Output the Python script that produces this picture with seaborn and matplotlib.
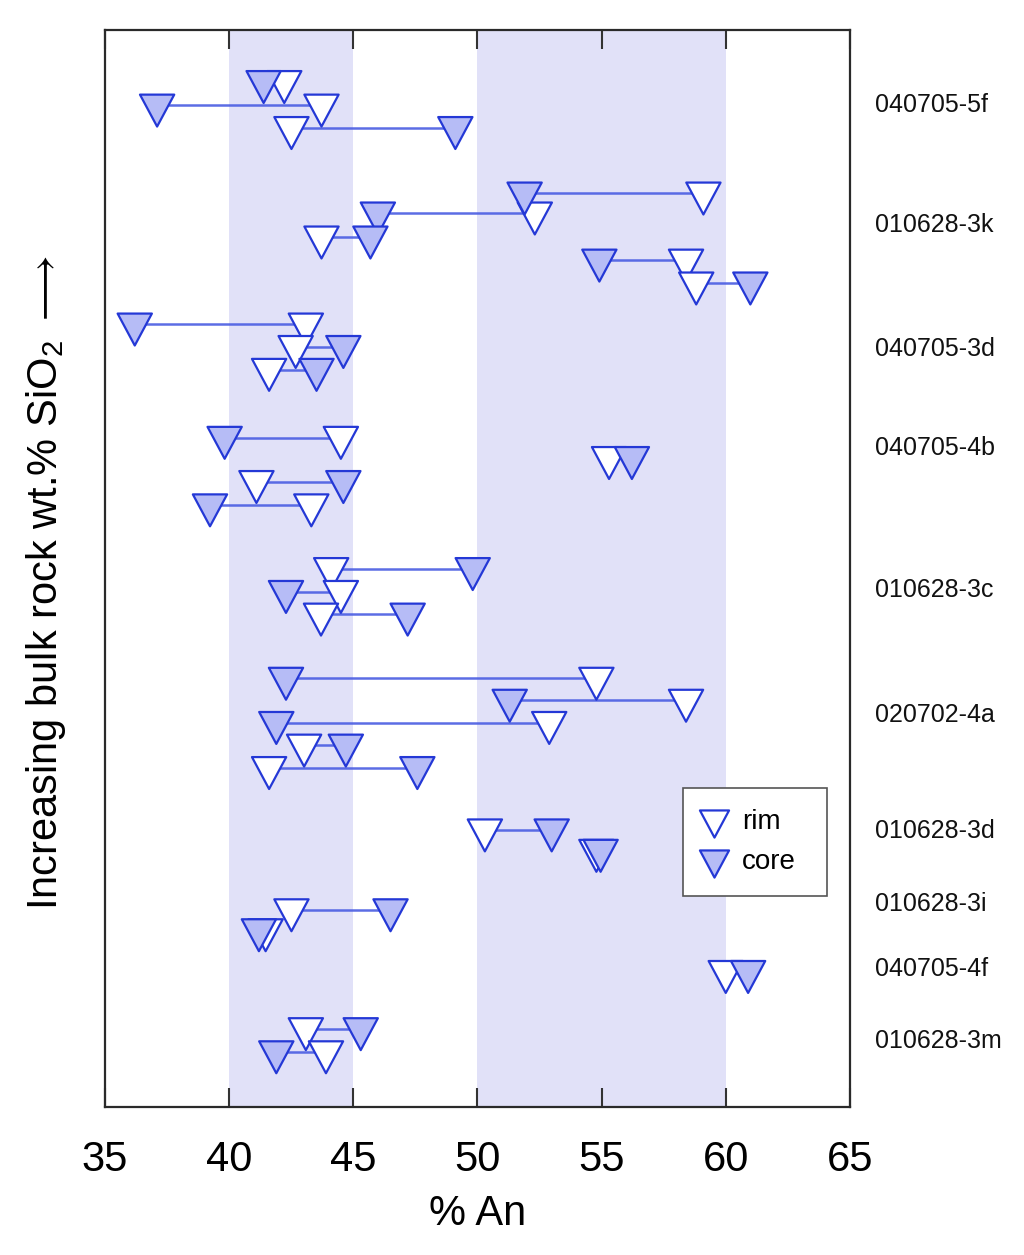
import numpy as np
import pandas as pd
import matplotlib
matplotlib.use("Agg")
import matplotlib.pyplot as plt
import matplotlib.path as mpath
from matplotlib.markers import MarkerStyle
import seaborn as sns

# ---------------- data ----------------
# one entry per rim-core pair: vertical row position, rim %An, core %An
row_pos = [45.70, 44.65, 43.65,
           40.73, 39.84, 38.77, 37.74, 36.72,
           34.89, 33.89, 32.87,
           29.84, 28.94, 27.87, 26.83,
           23.99, 22.97, 21.96,
           19.10, 18.12, 17.13, 16.12, 15.12,
           12.34, 11.43,
           8.78, 7.89,
           6.03,
           3.48, 2.45]
rim_an = [42.22, 43.72, 42.51,
          59.10, 52.31, 43.72, 58.40, 58.81,
          43.09, 42.68, 41.61,
          44.50, 55.30, 41.10, 43.31,
          44.11, 44.50, 43.70,
          54.79, 58.40, 52.89, 43.02, 41.61,
          50.30, 54.79,
          42.51, 41.47,
          60.00,
          43.09, 43.90]
core_an = [41.39, 37.10, 49.11,
           51.90, 45.99, 45.69, 54.91, 60.99,
           36.20, 44.60, 43.52,
           39.82, 56.22, 44.60, 39.23,
           49.81, 42.29, 47.19,
           42.29, 51.30, 41.90, 44.70, 47.58,
           52.99, 54.96,
           46.50, 41.20,
           60.90,
           45.30, 41.90]

sample_names = ["040705-5f", "010628-3k", "040705-3d", "040705-4b", "010628-3c",
                "020702-4a", "010628-3d", "010628-3i", "040705-4f", "010628-3m"]
sample_rows = [44.65, 39.30, 33.78, 29.37, 23.04, 17.47, 12.30, 9.05, 6.15, 2.94]

bands = [(40, 45), (50, 60)]
x_ticks = [35, 40, 45, 50, 55, 60, 65]

# ---------------- styling ----------------
EDGE = "#2438d6"
CORE_FILL = "#b6bcf6"
LINE = "#4a5de2"
BAND = "#e1e1f8"

sns.set_theme(style="white")
plt.rcParams["font.family"] = ["Liberation Sans", "DejaVu Sans"]
plt.rcParams["text.color"] = "black"
plt.rcParams["axes.labelcolor"] = "black"
plt.rcParams["mathtext.fontset"] = "custom"
plt.rcParams["mathtext.rm"] = "Liberation Sans"
plt.rcParams["mathtext.it"] = "Liberation Sans:italic"
plt.rcParams["mathtext.bf"] = "Liberation Sans:bold"
plt.rcParams["mathtext.fallback"] = "stixsans"

# downward triangle with its centroid at the origin
h = 1.865
verts = [(-1.0, h / 3), (1.0, h / 3), (0.0, -2 * h / 3), (-1.0, h / 3)]
codes = [mpath.Path.MOVETO, mpath.Path.LINETO, mpath.Path.LINETO, mpath.Path.CLOSEPOLY]
tri = MarkerStyle(mpath.Path(verts, codes))

n = len(row_pos)
pairs = pd.DataFrame({"pair": np.arange(n), "row": row_pos, "rim": rim_an, "core": core_an})
long = pd.concat([
    pd.DataFrame({"pair": pairs["pair"], "row": pairs["row"], "An": pairs["rim"], "type": "rim"}),
    pd.DataFrame({"pair": pairs["pair"], "row": pairs["row"], "An": pairs["core"], "type": "core"}),
], ignore_index=True)

fig = plt.figure(figsize=(10.24, 12.55), dpi=100)
ax = fig.add_axes([0.1025, 0.118, 0.7275, 0.858])

for lo, hi in bands:
    ax.axvspan(lo, hi, color=BAND, lw=0, zorder=0)

sns.lineplot(data=long, x="An", y="row", units="pair", estimator=None, sort=False,
             color=LINE, lw=1.8, alpha=0.9, legend=False, ax=ax, zorder=2)

sns.scatterplot(data=long, x="An", y="row", hue="type", hue_order=["rim", "core"],
                palette={"rim": "white", "core": CORE_FILL}, marker=tri, s=940,
                edgecolor=EDGE, linewidth=1.6, ax=ax, zorder=3, legend=True)

ax.set_xlim(35, 65)
ax.set_ylim(0, 48.0)
ax.set_xticks(x_ticks)
ax.set_yticks([])
ax.tick_params(axis="x", which="both", direction="in", length=14, width=1.5,
               color="#333333", top=True, bottom=True, labelsize=30, pad=24,
               labelcolor="black")
for sp in ax.spines.values():
    sp.set_color("#2a2a2a")
    sp.set_linewidth(1.6)

ax.set_xlabel("% An", fontsize=30, labelpad=10, color="black")
ax.set_ylabel("Increasing bulk rock wt.% SiO$_2$ $\\longrightarrow$", fontsize=30,
              color="black")
ax.yaxis.set_label_coords(-0.050, 0.487)

tr = ax.get_yaxis_transform()
for name, yr in zip(sample_names, sample_rows):
    ax.text(1.033, yr, name, transform=tr, fontsize=18, ha="left", va="center",
            color="#111111")

handles, labels = ax.get_legend_handles_labels()
leg = ax.legend(handles, labels, loc="upper left",
                bbox_to_anchor=(0.776, 0.196, 0.193, 0.1), mode="expand",
                borderaxespad=0, fontsize=20, frameon=True, fancybox=False,
                edgecolor="#555555", framealpha=1, markerscale=0.85,
                handlelength=0.7, handletextpad=0.66, labelspacing=0.5,
                borderpad=0.75)
leg.get_frame().set_linewidth(1.2)
for t in leg.get_texts():
    t.set_color("black")

fig.savefig("out.png", dpi=100)
